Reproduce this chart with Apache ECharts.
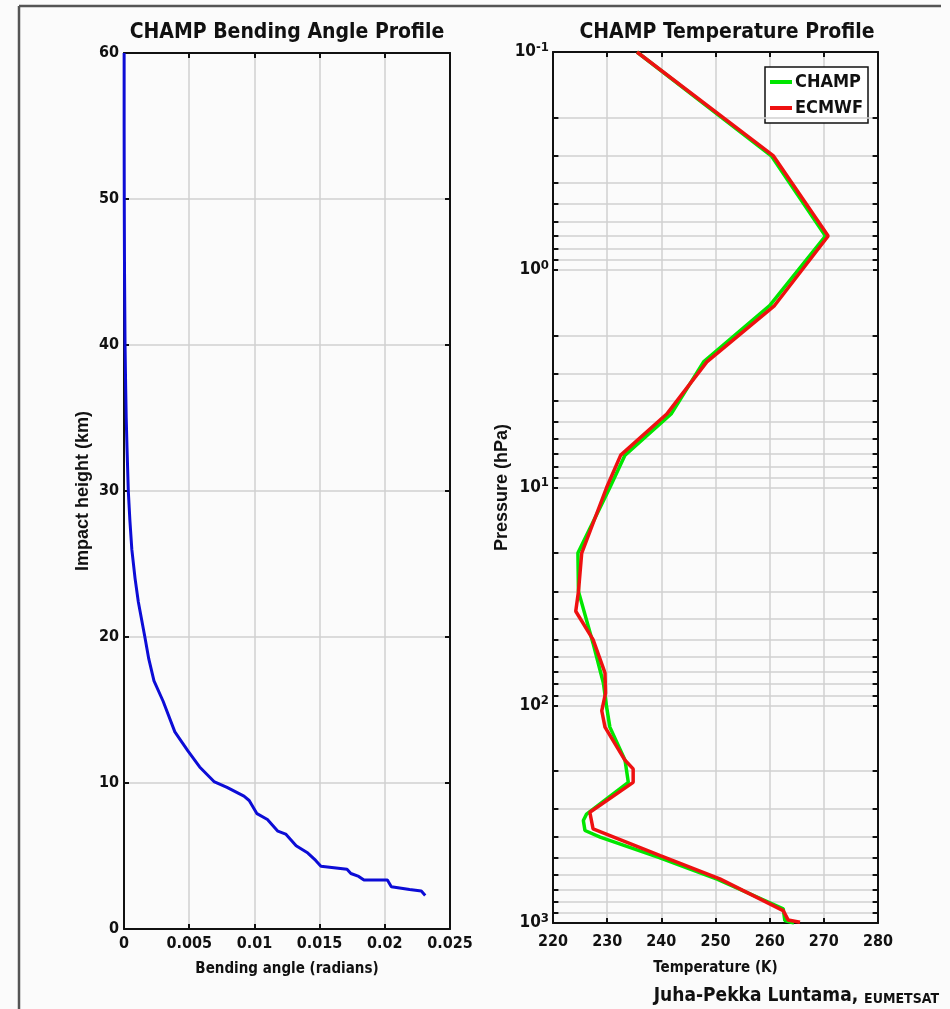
<!DOCTYPE html>
<html>
<head>
    <meta charset="utf-8">
    <title>CHAMP profiles</title>
    <script src="https://cdn.jsdelivr.net/npm/echarts@6/dist/echarts.min.js"></script>
    <style>
        html, body { margin: 0; padding: 0; background: #fbfbfb; }
        #chart { width: 950px; height: 1009px; }
    </style>
</head>
<body>
<div id="chart"></div>
<script>
    // left panel: bending angle profile
    var bendHeight = [60, 55, 50, 45, 40, 37, 35, 33, 30, 28, 26, 24, 22.4, 20, 18.5, 17, 15.6, 13.5, 12.2, 11.1,
        10.1, 9.7, 9.1, 8.8, 7.9, 7.5, 6.7, 6.5, 5.7, 5.2, 4.7, 4.3, 4.2, 4.1, 3.8, 3.6, 3.35, 3.35, 2.9, 2.7, 2.6, 2.3];
    var bendAngle = [0.00001, 0.00001, 0.00002, 0.00004, 0.00008, 0.00013, 0.00017, 0.00023, 0.00033, 0.00045, 0.0006, 0.00085, 0.0011, 0.0016, 0.0019, 0.0023, 0.0030, 0.0039, 0.0049, 0.0058,
        0.0069, 0.0079, 0.0092, 0.0096, 0.0102, 0.0110, 0.0118, 0.0124, 0.0132, 0.0141, 0.0147, 0.0151, 0.0161, 0.0171, 0.0174, 0.0180, 0.0184, 0.0202, 0.0205, 0.0219, 0.0228, 0.0231];

    // right panel: temperature profiles
    var ecmwfPressure = [0.1, 0.3, 0.7, 1.46, 2.65, 4.6, 7.1, 10, 20, 30, 37, 50, 71, 88, 106, 126, 179, 196, 226, 310, 370, 490, 627, 877, 968, 993];
    var ecmwfTemp = [235.5, 260.7, 270.8, 260.9, 248.4, 241.0, 232.5, 229.9, 225.3, 224.7, 224.2, 227.4, 229.6, 229.7, 229.0, 229.6, 233.3, 234.8, 234.8, 226.8, 227.4, 239.8, 250.8, 262.5, 263.4, 265.6];
    var champPressure = [0.1, 0.3, 0.7, 1.46, 2.65, 4.6, 7.1, 10, 20, 30, 52, 79, 102, 126, 179, 226, 316, 338, 376, 403, 500, 630, 860, 975, 1000];
    var champTemp = [235.5, 260.3, 270.3, 260.0, 247.8, 241.8, 233.3, 230.5, 224.6, 224.7, 227.4, 229.3, 229.9, 230.5, 233.3, 233.9, 226.2, 225.6, 225.9, 228.7, 239.5, 250.4, 262.5, 262.8, 264.5];

    // minor log grid levels (hPa)
    var minorLevels = [0.2, 0.3, 0.4, 0.5, 0.6, 0.7, 0.8, 0.9,
        2, 3, 4, 5, 6, 7, 8, 9,
        20, 30, 40, 50, 60, 70, 80, 90,
        200, 300, 400, 500, 600, 700, 800, 900];

    var FONT = '"Liberation Sans Narrow", "DejaVu Sans Condensed", "Liberation Sans", sans-serif';
    var WIDE = '"Liberation Sans", Arial, sans-serif';

    function pairs(xs, ys) {
        return xs.map(function (x, i) { return [x, ys[i]]; });
    }

    // short inward tick marks for the minor pressure levels, on both box edges
    var minorTicks = [];
    minorLevels.forEach(function (p) {
        minorTicks.push([{ coord: [220, p] }, { coord: [221, p] }]);
        minorTicks.push([{ coord: [279, p] }, { coord: [280, p] }]);
    });

    var chart = echarts.init(document.getElementById('chart'));

    var tickLabel = { color: '#111', fontFamily: FONT, fontWeight: 'bold', fontSize: 16 };
    var gridLine = { show: true, lineStyle: { color: '#d0d0d0', width: 1.5 } };
    var boxLine = { show: true, onZero: false, lineStyle: { color: '#111', width: 2 } };
    var inTick = { show: true, inside: true, length: 5, lineStyle: { color: '#111', width: 2 } };

    var option = {
        backgroundColor: '#fbfbfb',
        animation: false,
        title: [
            { text: 'CHAMP Bending Angle Profile', left: 282, top: 17, textAlign: 'center',
              textStyle: { fontFamily: FONT, fontWeight: 'bold', fontSize: 21, color: '#111' } },
            { text: 'CHAMP Temperature Profile', left: 722, top: 17, textAlign: 'center',
              textStyle: { fontFamily: FONT, fontWeight: 'bold', fontSize: 21, color: '#111' } }
        ],
        legend: {
            data: ['CHAMP', 'ECMWF'],
            orient: 'vertical',
            left: 765, top: 67,
            backgroundColor: '#fff',
            borderColor: '#111', borderWidth: 1.5,
            padding: [6, 5, 6, 5],
            itemGap: 8,
            itemWidth: 22, itemHeight: 4,
            icon: 'rect',
            textStyle: { fontFamily: FONT, fontWeight: 'bold', fontSize: 18, color: '#111', padding: [0, 0, 0, -2] }
        },
        grid: [
            { left: 124, top: 53, width: 326, height: 876 },
            { left: 553, top: 52, width: 325, height: 871 }
        ],
        xAxis: [
            { gridIndex: 0, type: 'value', min: 0, max: 0.025, interval: 0.005, position: 'bottom',
              name: 'Bending angle (radians)', nameLocation: 'middle', nameGap: 33,
              nameTextStyle: { fontFamily: FONT, fontWeight: 'bold', fontSize: 15, color: '#111' },
              axisLine: boxLine, axisTick: inTick, axisLabel: Object.assign({ margin: 7 }, tickLabel), splitLine: gridLine },
            { gridIndex: 0, type: 'value', min: 0, max: 0.025, interval: 0.005, position: 'top',
              axisLine: boxLine, axisTick: inTick, axisLabel: { show: false }, splitLine: { show: false } },
            { gridIndex: 1, type: 'value', min: 220, max: 280, interval: 10, position: 'bottom',
              name: 'Temperature (K)', nameLocation: 'middle', nameGap: 38,
              nameTextStyle: { fontFamily: FONT, fontWeight: 'bold', fontSize: 15, color: '#111' },
              axisLine: boxLine, axisTick: inTick, axisLabel: Object.assign({ margin: 11 }, tickLabel), splitLine: gridLine },
            { gridIndex: 1, type: 'value', min: 220, max: 280, interval: 10, position: 'top',
              axisLine: boxLine, axisTick: inTick, axisLabel: { show: false }, splitLine: { show: false } }
        ],
        yAxis: [
            { gridIndex: 0, type: 'value', min: 0, max: 60, interval: 10, position: 'left',
              name: 'Impact height (km)', nameLocation: 'middle', nameGap: 32, nameRotate: 90,
              nameTextStyle: { fontFamily: WIDE, fontWeight: 'bold', fontSize: 18, color: '#111' },
              axisLine: boxLine, axisTick: inTick, axisLabel: Object.assign({ margin: 5 }, tickLabel), splitLine: gridLine },
            { gridIndex: 0, type: 'value', min: 0, max: 60, interval: 10, position: 'right',
              axisLine: boxLine, axisTick: inTick, axisLabel: { show: false }, splitLine: { show: false } },
            { gridIndex: 1, type: 'log', logBase: 10, min: 0.1, max: 1000, inverse: true, position: 'left',
              name: 'Pressure (hPa)', nameLocation: 'middle', nameGap: 38, nameRotate: 90,
              nameTextStyle: { fontFamily: WIDE, fontWeight: 'bold', fontSize: 18, color: '#111' },
              axisLine: boxLine, axisTick: inTick,
              axisLabel: {
                  margin: 4,
                  formatter: function (v) {
                      return '{b|10}{s|' + Math.round(Math.log10(v)) + '}';
                  },
                  rich: {
                      b: { fontFamily: FONT, fontWeight: 'bold', fontSize: 17, color: '#111', lineHeight: 22 },
                      s: { fontFamily: FONT, fontWeight: 'bold', fontSize: 13, color: '#111', verticalAlign: 'top', lineHeight: 13 }
                  }
              },
              splitLine: gridLine },
            { gridIndex: 1, type: 'log', logBase: 10, min: 0.1, max: 1000, inverse: true, position: 'right',
              axisLine: boxLine, axisTick: inTick, axisLabel: { show: false }, splitLine: { show: false } }
        ],
        series: [
            { name: 'Bending angle', type: 'line', xAxisIndex: 0, yAxisIndex: 0,
              data: pairs(bendAngle, bendHeight), showSymbol: false, z: 5,
              lineStyle: { color: '#0c0cd6', width: 3 } },
            { name: 'grid', type: 'line', xAxisIndex: 2, yAxisIndex: 2, data: [], z: 1,
              markLine: {
                  silent: true, symbol: 'none', animation: false,
                  label: { show: false },
                  lineStyle: { color: '#d0d0d0', width: 1.5, type: 'solid' },
                  data: minorLevels.map(function (p) { return { yAxis: p }; })
              } },
            { name: 'ticks', type: 'line', xAxisIndex: 2, yAxisIndex: 2, data: [], z: 3,
              markLine: {
                  silent: true, symbol: 'none', animation: false,
                  label: { show: false },
                  lineStyle: { color: '#111', width: 2, type: 'solid' },
                  data: minorTicks
              } },
            { name: 'CHAMP', type: 'line', xAxisIndex: 2, yAxisIndex: 2,
              data: pairs(champTemp, champPressure), showSymbol: false, z: 5,
              itemStyle: { color: '#00e600' }, lineStyle: { color: '#00e600', width: 3.5 } },
            { name: 'ECMWF', type: 'line', xAxisIndex: 2, yAxisIndex: 2,
              data: pairs(ecmwfTemp, ecmwfPressure), showSymbol: false, z: 6,
              itemStyle: { color: '#ee1111' }, lineStyle: { color: '#ee1111', width: 3.5 } }
        ],
        graphic: [
            { type: 'line', shape: { x1: 19, y1: 6, x2: 941, y2: 6 }, style: { stroke: '#555', lineWidth: 2.5 } },
            { type: 'line', shape: { x1: 19, y1: 6, x2: 19, y2: 1009 }, style: { stroke: '#555', lineWidth: 2.5 } },
            { type: 'text', right: 11, top: 987,
              style: {
                  text: '{a|Juha-Pekka Luntama, }{b|EUMETSAT}',
                  rich: {
                      a: { fontFamily: FONT, fontWeight: 'bold', fontSize: 19, fill: '#111' },
                      b: { fontFamily: FONT, fontWeight: 'bold', fontSize: 14, fill: '#111', verticalAlign: 'bottom' }
                  }
              } }
        ]
    };

    chart.setOption(option);

    window.onresize = function () {
        chart.resize();
    };
</script>
</body>
</html>
